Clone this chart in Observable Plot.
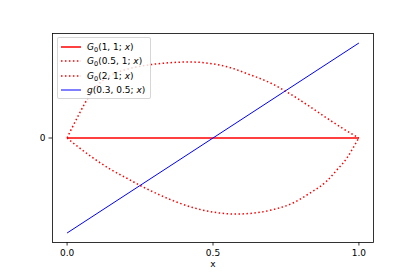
<!DOCTYPE html>
<html>
<head>
<meta charset="utf-8">
<script src="https://cdn.jsdelivr.net/npm/d3@7"></script>
<script src="https://cdn.jsdelivr.net/npm/@observablehq/plot@0.6"></script>
<style>
  body { margin: 0; background: white; }
  #wrap { position: relative; width: 415px; height: 277px; font-family: "DejaVu Sans", sans-serif; }
  #legend { position: absolute; left: 57px; top: 37px; width: 94px; height: 62px;
    background: rgba(255,255,255,0.8); border: 1px solid rgba(204,204,204,0.8); border-radius: 2px; box-sizing: border-box; }
  .row { position: absolute; left: 0; height: 14px; width: 100%; }
  .row svg { position: absolute; left: 2px; top: 0; }
  .row span.lab { position: absolute; left: 29px; top: 0; font-size: 9px; line-height: 14px; white-space: nowrap; color: black; }
  .row i { font-style: italic; }
  .sub { font-size: 6.5px; position: relative; top: 2px; }
</style>
</head>
<body>
<div id="wrap"></div>
<script>
// ---- data ----
const xTicks = [0, 0.5, 1];
const yTicks = [0];

// G0(1,1;x)
const g11X = [0, 1];
const g11Y = [0, 0];

// G0(0.5,1;x)
const g051X = [0, 0.01, 0.02, 0.04, 0.06, 0.08, 0.10, 0.12, 0.15, 0.2, 0.25, 0.3, 0.35, 0.42, 0.5, 0.56, 0.616, 0.695, 0.774, 0.832, 0.89, 0.945, 1];
const g051Y = [0, 0.065, 0.125, 0.245, 0.36, 0.46, 0.54, 0.60, 0.66, 0.72, 0.755, 0.778, 0.792, 0.80, 0.78, 0.74, 0.678, 0.582, 0.446, 0.33, 0.21, 0.1, 0];

// G0(2,1;x)
const g21X = [0, 0.021, 0.05, 0.089, 0.15, 0.205, 0.26, 0.318, 0.38, 0.44, 0.5, 0.58, 0.64, 0.7, 0.774, 0.832, 0.89, 0.925, 0.959, 0.979, 0.993, 1];
const g21Y = [0, -0.053, -0.122, -0.21, -0.332, -0.424, -0.515, -0.6, -0.68, -0.74, -0.78, -0.80, -0.79, -0.758, -0.684, -0.58, -0.453, -0.335, -0.211, -0.11, -0.035, 0];

// g(0.3,0.5;x)
const gX = [0, 1];
const gY = [-1, 1];

const labels = ["G0(1, 1; x)", "G0(0.5, 1; x)", "G0(2, 1; x)", "g(0.3, 0.5; x)"];

// ---- build ----
const zip = (xs, ys) => xs.map((x, i) => ({x, y: ys[i]}));
const dotted = "1.5,2.475";

const plot = Plot.plot({
  width: 415, height: 277,
  marginLeft: 52, marginRight: 42, marginTop: 33, marginBottom: 35,
  style: {fontFamily: "DejaVu Sans", fontSize: "9px", color: "black", background: "white"},
  x: {domain: [-0.05, 1.05]},
  y: {domain: [-1.1, 1.1]},
  marks: [
    Plot.line(zip(g11X, g11Y), {x: "x", y: "y", stroke: "red", strokeWidth: 1.5, strokeLinecap: "butt"}),
    Plot.line(zip(g051X, g051Y), {x: "x", y: "y", stroke: "red", strokeWidth: 1.5, strokeDasharray: dotted, strokeLinecap: "butt", curve: "monotone-x"}),
    Plot.line(zip(g21X, g21Y), {x: "x", y: "y", stroke: "red", strokeWidth: 1.5, strokeDasharray: dotted, strokeLinecap: "butt", curve: "monotone-x"}),
    Plot.line(zip(gX, gY), {x: "x", y: "y", stroke: "blue", strokeWidth: 1, strokeLinecap: "butt"}),
    Plot.frame({stroke: "black", strokeWidth: 0.8}),
    Plot.axisX({ticks: xTicks, tickFormat: d3.format(".1f"), tickSize: 3.5, tickPadding: 3.5, strokeWidth: 0.8, label: null}),
    Plot.axisY({ticks: yTicks, tickFormat: d => String(d), tickSize: 3.5, tickPadding: 3.5, strokeWidth: 0.8, label: null}),
    Plot.text(["x"], {frameAnchor: "bottom", dy: 24, text: d => d, fontSize: 9})
  ]
});

const wrap = document.getElementById("wrap");
wrap.appendChild(plot);

// legend overlay
const leg = document.createElement("div");
leg.id = "legend";
const styles = [
  {stroke: "red", w: 1.5, dash: null},
  {stroke: "red", w: 1.5, dash: dotted},
  {stroke: "red", w: 1.5, dash: dotted},
  {stroke: "blue", w: 1, dash: null}
];
function mathLabel(s) {
  let head, rest;
  if (s.startsWith("G0")) { head = '<i>G</i><span class="sub">0</span>'; rest = s.slice(2); }
  else { head = '<i>' + s[0] + '</i>'; rest = s.slice(1); }
  rest = rest.replace("; x)", "; <i>x</i>)");
  return head + rest;
}
labels.forEach((lab, i) => {
  const row = document.createElement("div");
  row.className = "row";
  row.style.top = (1.5 + 14.5 * i) + "px";
  const st = styles[i];
  row.innerHTML = `<svg width="22" height="14"><line x1="1" x2="21" y1="7" y2="7" stroke="${st.stroke}" stroke-width="${st.w}" ${st.dash ? `stroke-dasharray="${st.dash}"` : ""} stroke-linecap="butt"/></svg><span class="lab">${mathLabel(lab)}</span>`;
  leg.appendChild(row);
});
wrap.appendChild(leg);
</script>
</body>
</html>
